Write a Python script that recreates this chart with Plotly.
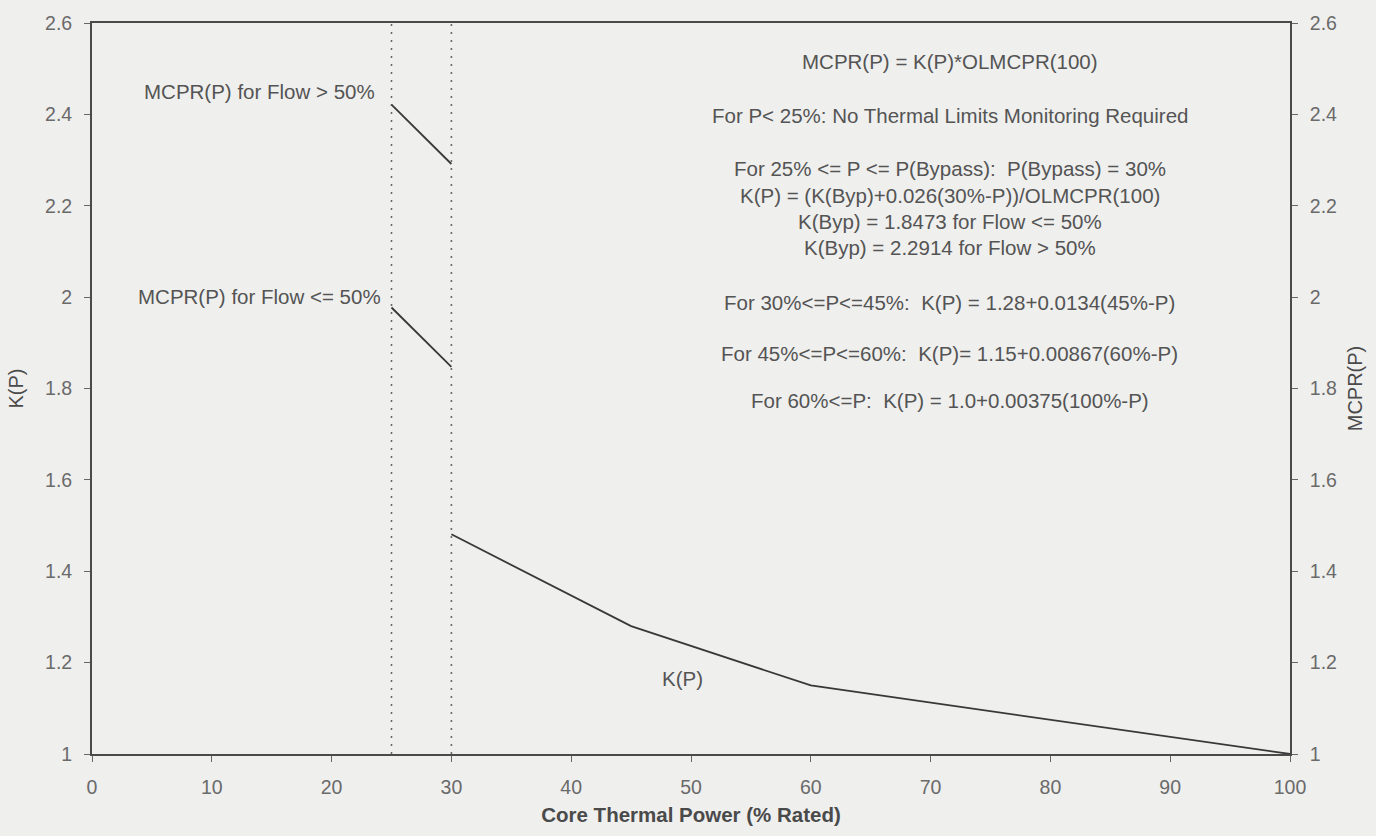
import plotly.graph_objects as go

# Data
p_high = [25, 30]
mcpr_high = [2.4214, 2.2914]          # MCPR(P) for Flow > 50%
p_low = [25, 30]
mcpr_low = [1.9773, 1.8473]           # MCPR(P) for Flow <= 50%
p_k = [30, 45, 60, 100]
k_vals = [1.481, 1.28, 1.15, 1.0]     # K(P)
bypass_lines = [25, 30]
x_ticks = [0, 10, 20, 30, 40, 50, 60, 70, 80, 90, 100]
y_ticks = [1, 1.2, 1.4, 1.6, 1.8, 2, 2.2, 2.4, 2.6]

formula_text = [
    "MCPR(P) = K(P)*OLMCPR(100)",
    "For P< 25%: No Thermal Limits Monitoring Required",
    "For 25% <= P <= P(Bypass):  P(Bypass) = 30%",
    "K(P) = (K(Byp)+0.026(30%-P))/OLMCPR(100)",
    "K(Byp) = 1.8473 for Flow <= 50%",
    "K(Byp) = 2.2914 for Flow > 50%",
    "For 30%<=P<=45%:  K(P) = 1.28+0.0134(45%-P)",
    "For 45%<=P<=60%:  K(P)= 1.15+0.00867(60%-P)",
    "For 60%<=P:  K(P) = 1.0+0.00375(100%-P)",
]
formula_y = [2.515, 2.397, 2.282, 2.223, 2.166, 2.109, 1.989, 1.876, 1.773]

LINE = "#383838"
TXT = "#545454"
FONT = "Liberation Sans, Arial, sans-serif"
FS = 20.5

fig = go.Figure()
for xv in bypass_lines:
    fig.add_trace(go.Scatter(x=[xv, xv], y=[1, 2.6], mode="lines",
                             line=dict(color="#6a6a6a", width=1.6, dash="2px,6px"),
                             showlegend=False, hoverinfo="skip"))
fig.add_trace(go.Scatter(x=p_high, y=mcpr_high, mode="lines",
                         line=dict(color=LINE, width=1.8), showlegend=False))
fig.add_trace(go.Scatter(x=p_low, y=mcpr_low, mode="lines",
                         line=dict(color=LINE, width=1.8), showlegend=False))
fig.add_trace(go.Scatter(x=p_k, y=k_vals, mode="lines",
                         line=dict(color=LINE, width=1.8), showlegend=False))
# invisible trace to activate right axis
fig.add_trace(go.Scatter(x=[0], y=[1], yaxis="y2", mode="markers",
                         marker=dict(opacity=0), showlegend=False, hoverinfo="skip"))

annots = []
for txt, yv in zip(formula_text, formula_y):
    annots.append(dict(x=71.6, y=yv, xref="x", yref="y", text=txt, showarrow=False,
                       xanchor="center", yanchor="middle",
                       font=dict(size=FS, color=TXT, family=FONT)))
annots.append(dict(x=23.8, y=2.450, text="MCPR(P) for Flow > 50%", showarrow=False,
                   xanchor="right", yanchor="middle", font=dict(size=FS, color=TXT, family=FONT)))
annots.append(dict(x=24.3, y=2.002, text="MCPR(P) for Flow <= 50%", showarrow=False,
                   xanchor="right", yanchor="middle", font=dict(size=FS, color=TXT, family=FONT)))
annots.append(dict(x=49.25, y=1.166, text="K(P)", showarrow=False,
                   xanchor="center", yanchor="middle", font=dict(size=FS, color=TXT, family=FONT)))

axis_common = dict(showgrid=False, zeroline=False, showline=True, linecolor="#4a4a4a",
                   linewidth=1.8, ticks="outside", ticklen=6, tickcolor="#666", tickwidth=1.2,
                   tickfont=dict(size=19.5, color="#6a6a6a", family=FONT))

fig.update_layout(
    width=1376, height=836,
    margin=dict(l=92, r=86, t=21, b=82),
    paper_bgcolor="#efefee", plot_bgcolor="#efefee",
    xaxis=dict(range=[0, 100], tickvals=x_ticks, mirror=True, ticklabelstandoff=9,
               title=dict(text="<b>Core Thermal Power (% Rated)</b>", standoff=10,
                          font=dict(size=20.5, color="#4a4a4a", family=FONT)),
               **axis_common),
    yaxis=dict(range=[1, 2.6], tickvals=y_ticks, ticklabelstandoff=8,
               title=dict(text="K(P)", standoff=16, font=dict(size=20, color="#4a4a4a", family=FONT)),
               **axis_common),
    yaxis2=dict(range=[1, 2.6], tickvals=y_ticks, overlaying="y", side="right", ticklabelstandoff=8,
                title=dict(text="MCPR(P)", standoff=12, font=dict(size=20, color="#4a4a4a", family=FONT)),
                **axis_common),
    annotations=annots,
)

fig.write_html(
    "out.html",
    config={"displayModeBar": False},
    post_script="document.body.style.margin='0';document.body.style.background='#efefee';",
)
